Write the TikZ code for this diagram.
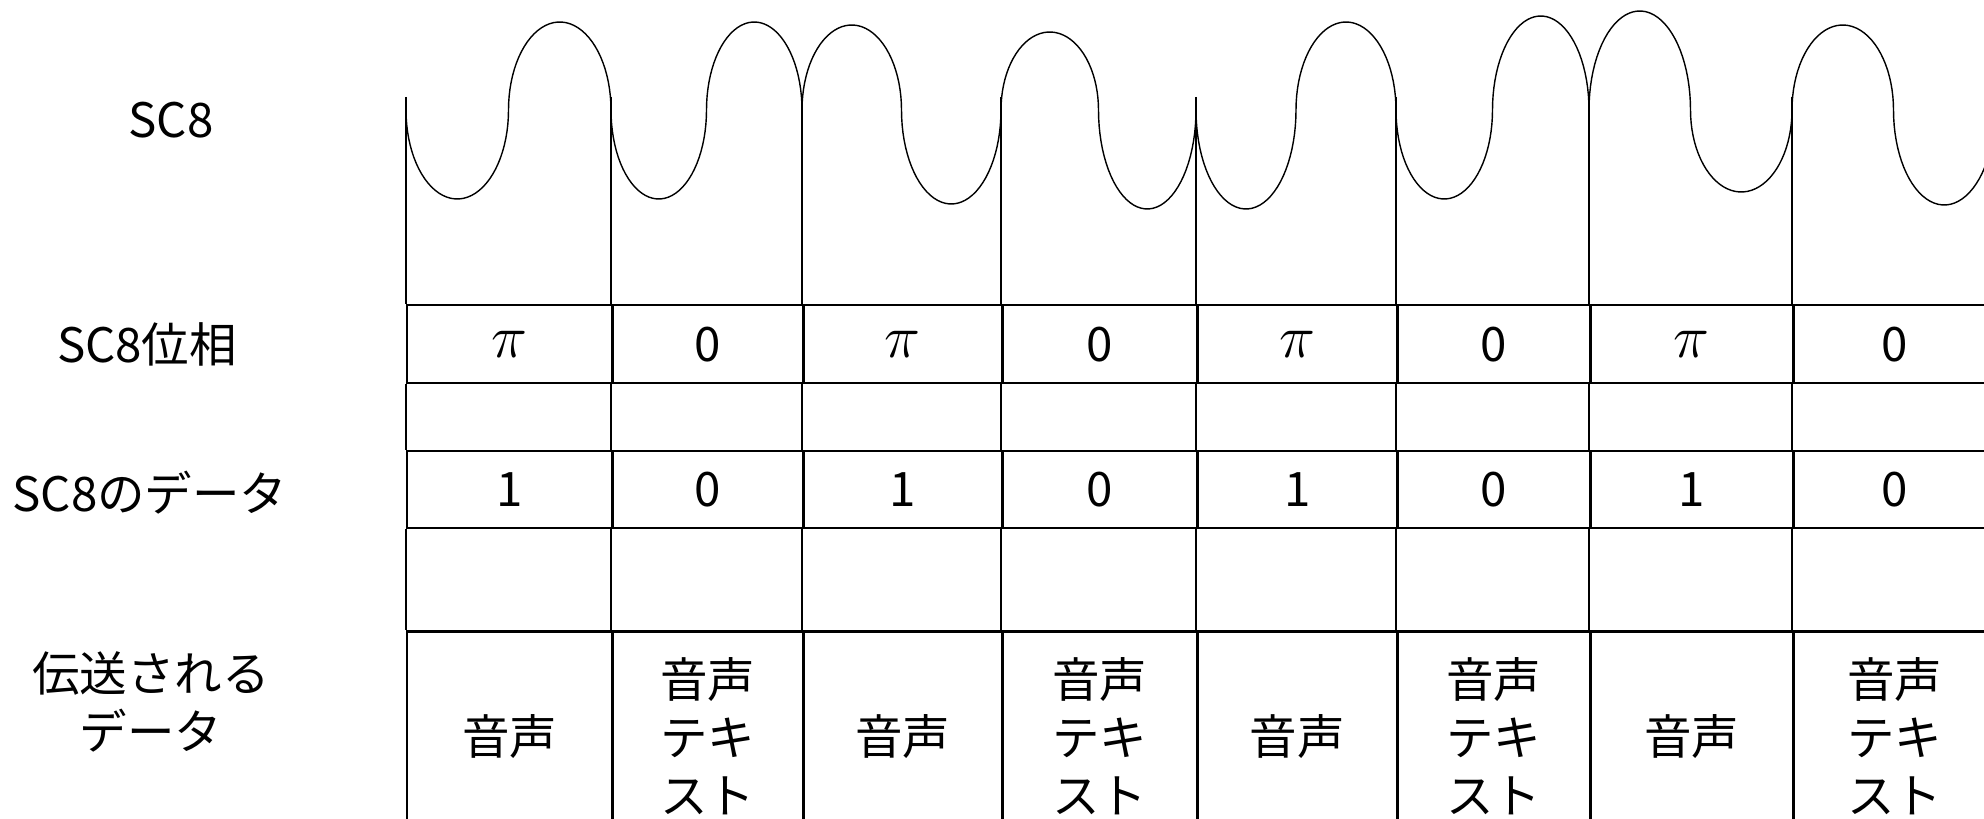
\documentclass[tikz,border=0pt]{standalone}
\usepackage{fontspec}
\setmainfont{Noto Sans CJK JP}
\usetikzlibrary{positioning}

\newcommand{\phpi}{\raisebox{-2pt}{\fontsize{19}{20}\selectfont$\pi$}}

\begin{document}
\begin{tikzpicture}[x = 0.01cm, y = -0.01cm, font = \fontsize{13.5}{16.5}\selectfont,
cell/.style={ rectangle, draw, line width = 0.7pt, inner sep = 0pt },
phbox/.style={ cell, minimum height = 0.78cm },
dtbox/.style={ cell, minimum height = 0.77cm },
txbox/.style={ cell, minimum height = 2.1cm, align = center },
wave/.style={ line width = 0.4pt },
link/.style={ line width = 0.4pt }
]
\useasboundingbox (0,0) rectangle (1984,819);
\clip (0,0) rectangle (1984,819);

%row labels on the left
\node (lwave) at (171,120) {SC8};
\node (lph) at (147,344) {SC8位相};
\node (ldt) at (150,493) {SC8のデータ};
\node (ltx) [align = center] at (151,702) {伝送される\\データ};

%the three rows of boxes, one column per symbol
\foreach \i/\a/\w/\p/\d/\x in {1/406/2.05/\phpi/1/音声, 2/611/1.91/0/0/音声\\テキ\\スト,
  3/802/1.99/\phpi/1/音声, 4/1001/1.95/0/0/音声\\テキ\\スト,
  5/1196/2.00/\phpi/1/音声, 6/1396/1.93/0/0/音声\\テキ\\スト,
  7/1589/2.03/\phpi/1/音声, 8/1792/2.03/0/0/音声\\テキ\\スト}
{
\node (ph\i) [phbox, minimum width = \w cm, anchor = north west] at (\a,304) {\p};
\node (dt\i) [dtbox, minimum width = \w cm, below = 0.65cm of ph\i] {\d};
\node (tx\i) [txbox, minimum width = \w cm, below = 1.01cm of dt\i] {\x};
%links between the rows
\coordinate (w\i) at (\a,97);
\draw[link] (w\i) -- (ph\i.north west);
\draw[link] (ph\i.south west) -- (dt\i.north west);
\draw[link] (dt\i.south west) -- (tx\i.north west);
}

%SC8 carrier, one cycle per column
\foreach \a/\w/\da/\db in {406/205/89/-88, 611/191/89/-88, 802/199/-85/94, 1001/195/-78/99,
  1196/200/99/-88, 1396/193/89/-94, 1589/203/-99/82, 1792/203/-85/95}
\draw[wave] plot[domain = 0:180, samples = 40, variable = \t] ({\a+\w/4*(1-cos(\t))}, {110+\da*sin(\t)})
  -- plot[domain = 0:180, samples = 40, variable = \t] ({\a+\w/2+\w/4*(1-cos(\t))}, {110+\db*sin(\t)});
\end{tikzpicture}
\end{document}
